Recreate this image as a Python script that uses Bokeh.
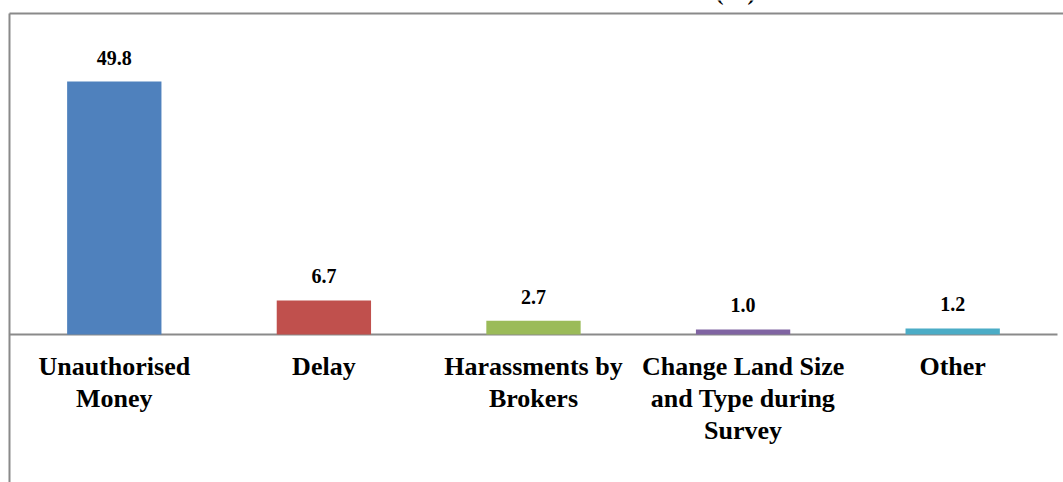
from bokeh.plotting import figure
from bokeh.models import Range1d, ColumnDataSource
from bokeh.core.properties import value
from bokeh.embed import file_html
from bokeh.resources import INLINE

# Problems reported, share of respondents (%)
categories = ["Unauthorised\nMoney", "Delay", "Harassments by\nBrokers",
              "Change Land Size\nand Type during\nSurvey", "Other"]
percent = [49.8, 6.7, 2.7, 1.0, 1.2]
value_labels = ["49.8", "6.7", "2.7", "1.0", "1.2"]
bar_colors = ["#4F81BD", "#C0504D", "#9BBB59", "#8064A2", "#4BACC6"]

FONT = "Liberation Serif"
FRAME_GRAY = "#8a8a8a"

positions = list(range(len(categories)))
src = ColumnDataSource(dict(x=positions, top=percent, cat=categories,
                            lab=value_labels, color=bar_colors))

# plot area fills the whole canvas; the chart border is drawn inside it
p = figure(width=1063, height=482, output_backend="svg", toolbar_location=None,
           x_axis_type=None, y_axis_type=None,
           x_range=Range1d(-0.5429, 4.5287), y_range=Range1d(-29.13, 65.75),
           min_border_left=0, min_border_top=0, min_border_right=0,
           min_border_bottom=0)
p.outline_line_color = None
p.xgrid.visible = False
p.ygrid.visible = False
p.background_fill_color = "white"
p.border_fill_color = "white"

x_left, x_right = -0.5, len(categories) - 0.5
y_top, y_bottom = 63.19, -29.13

# chart border: left and top edges
p.segment(x0=[x_left, x_left], y0=[y_bottom, y_top],
          x1=[x_left, 4.5287], y1=[y_top, y_top],
          line_color=FRAME_GRAY, line_width=2)

# category baseline
p.segment(x0=x_left, x1=x_right, y0=0, y1=0, line_color=FRAME_GRAY, line_width=2)

p.vbar(x="x", top="top", bottom=0, width=0.45, fill_color="color",
       line_color=None, source=src)

p.text(x="x", y="top", text="lab", source=src, text_align="center",
       text_baseline="alphabetic", y_offset=-24,
       text_font=value(FONT), text_font_style="bold",
       text_font_size="20px", text_color="black")

p.text(x="x", y=0, text="cat", source=src, text_align="center",
       text_baseline="top", y_offset=17, text_line_height=1.11,
       text_font=value(FONT), text_font_style="bold",
       text_font_size="26px", text_color="black")

# chart title, running off the top of the page
p.text(x=[2.964], y=[65.75], text=["(%)"], text_align="center",
       text_baseline="alphabetic", y_offset=-9,
       text_font=value(FONT), text_font_style="bold",
       text_font_size="24px", text_color="black")

open("out.html", "w").write(file_html(p, INLINE))
